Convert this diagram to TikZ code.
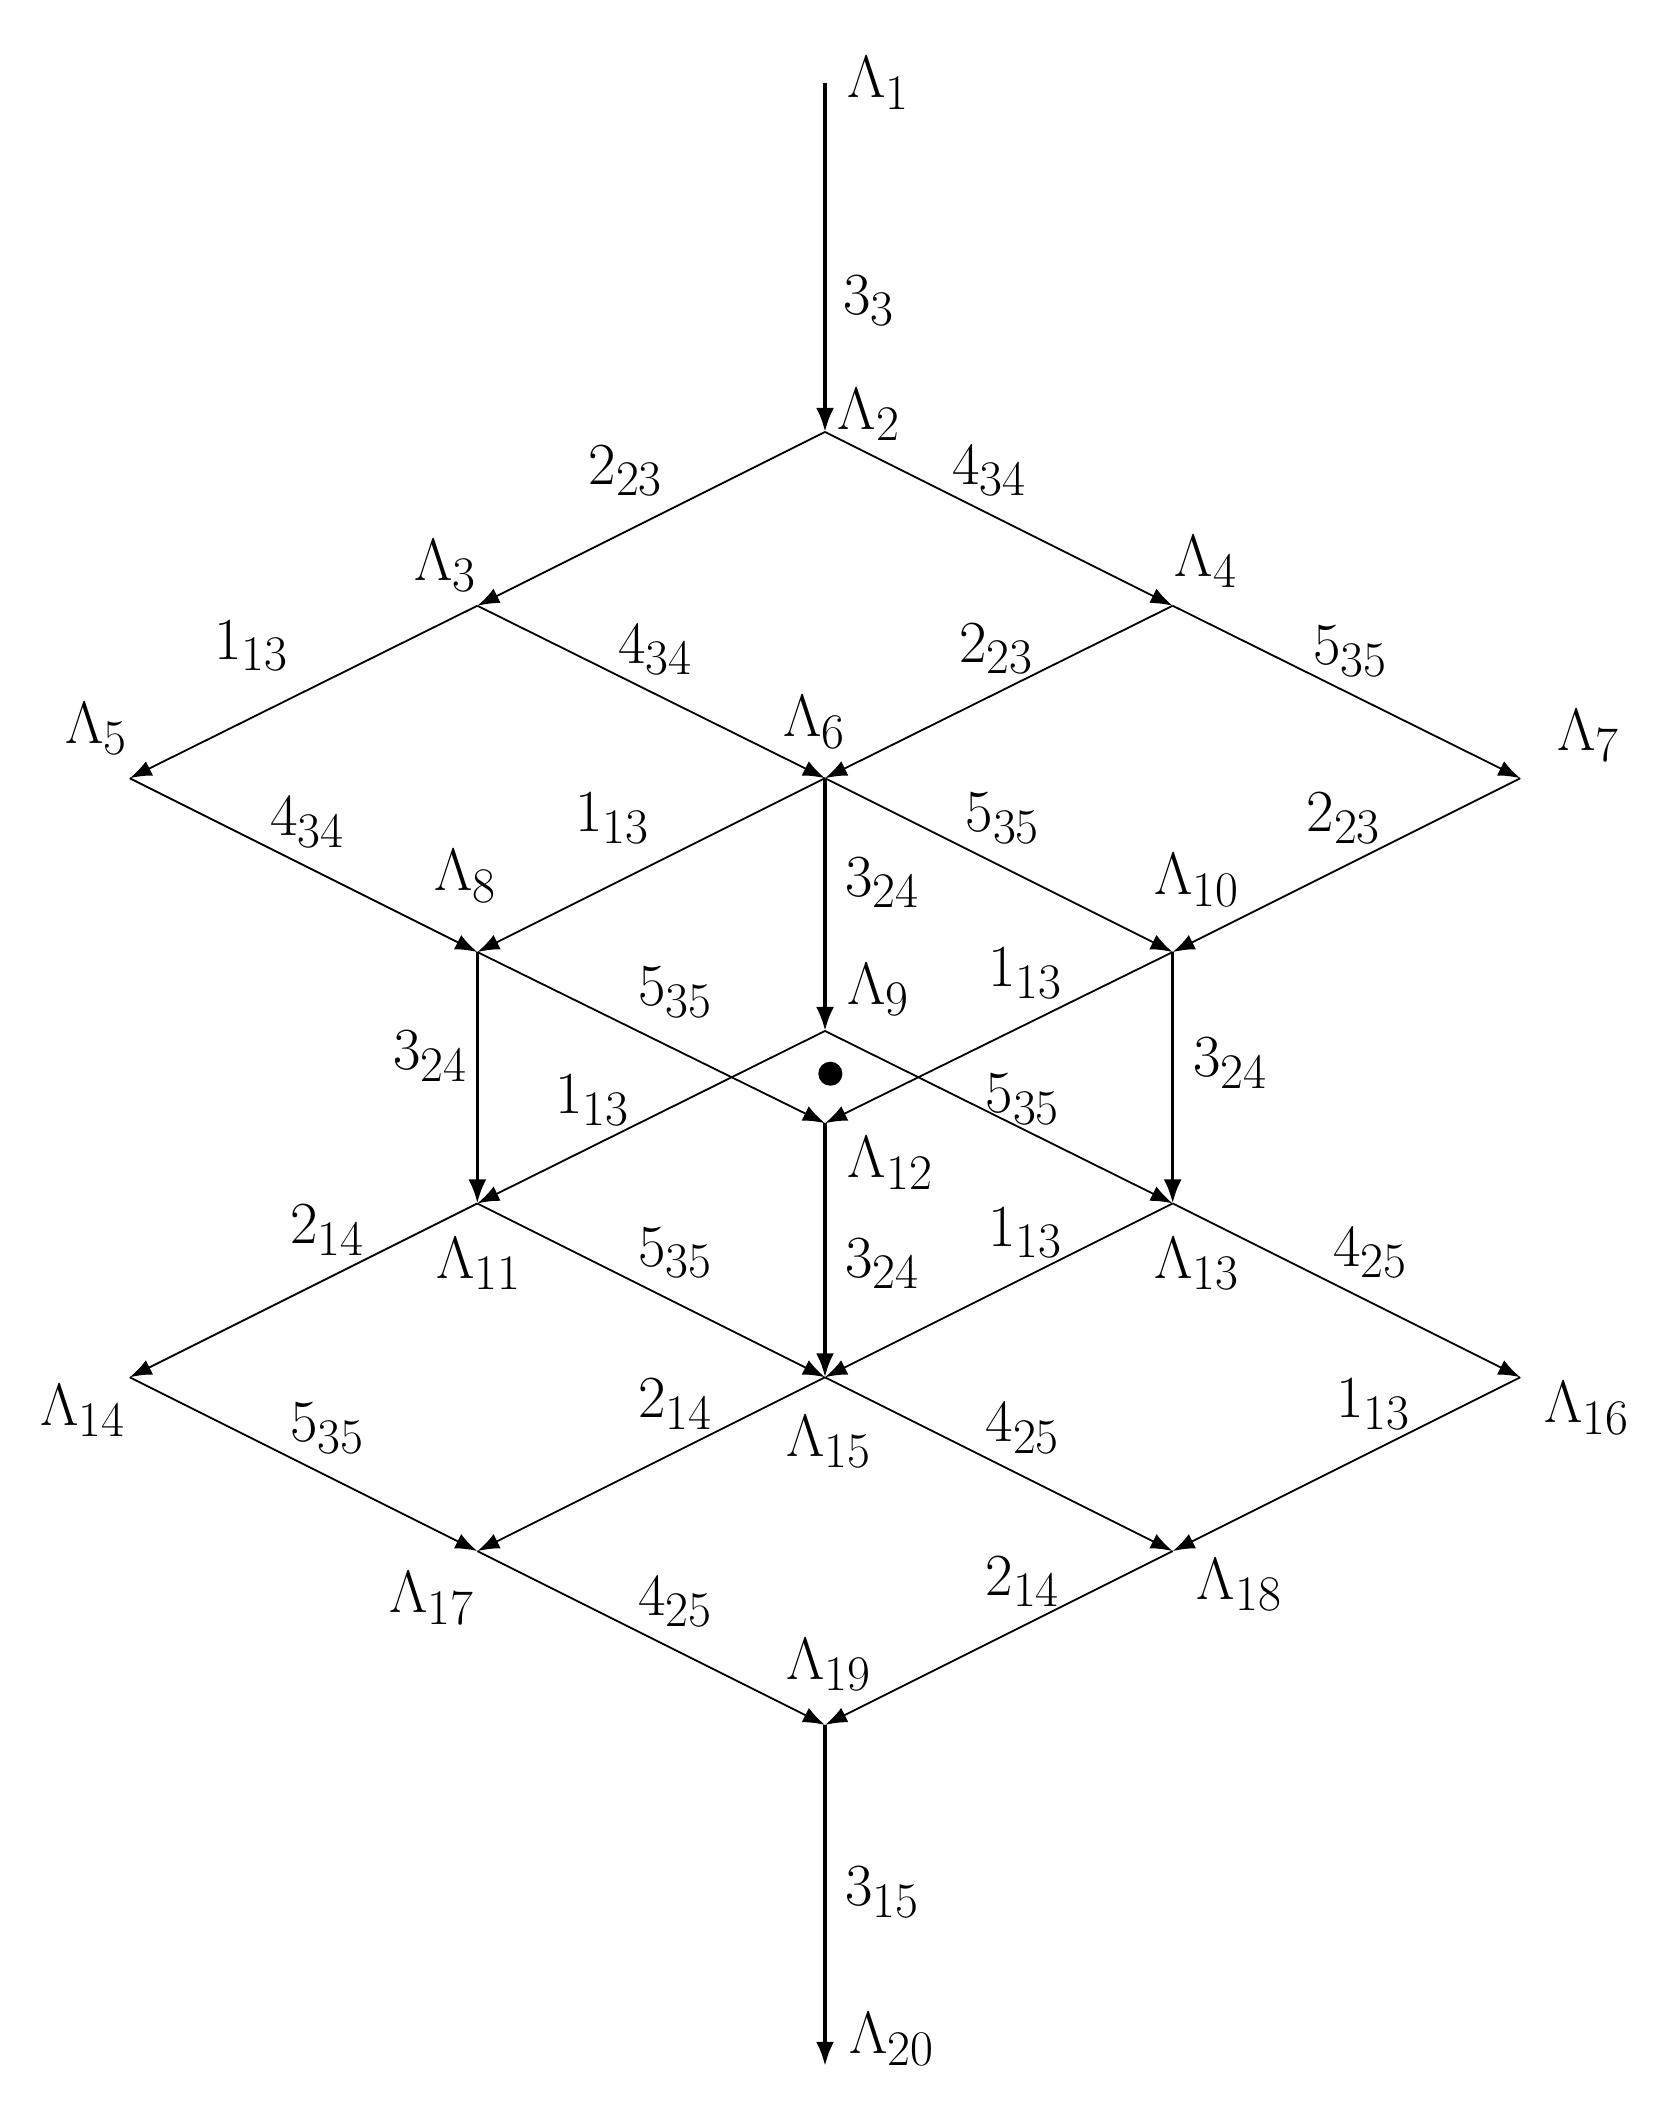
\documentclass[tikz,border=0pt]{standalone}
\usepackage{graphicx}
\usetikzlibrary{arrows.meta}
\newcommand{\lb}[1]{\scalebox{1.2}{\Huge$#1$}}
\begin{document}
\begin{tikzpicture}[x=0.6685pt,y=-0.6685pt,
  lab/.style={inner sep=0pt},
  ed/.style={line width=0.9pt,-{Latex[length=11pt,width=8pt]}},
  ved/.style={line width=1.8pt,-{Latex[length=12pt,width=9pt]}}]
\useasboundingbox (0,0) rectangle (1250,1578);
\coordinate (L1) at (617,62);
\coordinate (L2) at (617,323);
\coordinate (L3) at (357,453);
\coordinate (L4) at (877,453);
\coordinate (L5) at (97,582);
\coordinate (L6) at (617,582);
\coordinate (L7) at (1137,582);
\coordinate (L8) at (357,712);
\coordinate (L9) at (617,771);
\coordinate (L10) at (877,712);
\coordinate (L11) at (357,900);
\coordinate (L12) at (617,840);
\coordinate (L13) at (877,900);
\coordinate (L14) at (97,1030);
\coordinate (L15) at (617,1030);
\coordinate (L16) at (1137,1030);
\coordinate (L17) at (357,1160);
\coordinate (L18) at (877,1160);
\coordinate (L19) at (617,1290);
\coordinate (L20) at (617,1545);
\draw[ved] (L1) -- (L2);
\draw[ed] (L2) -- (L3);
\draw[ed] (L2) -- (L4);
\draw[ed] (L3) -- (L5);
\draw[ed] (L3) -- (L6);
\draw[ed] (L4) -- (L6);
\draw[ed] (L4) -- (L7);
\draw[ed] (L5) -- (L8);
\draw[ed] (L6) -- (L8);
\draw[ved] (L6) -- (L9);
\draw[ed] (L6) -- (L10);
\draw[ed] (L7) -- (L10);
\draw[ved] (L8) -- (L11);
\draw[ed] (L8) -- (L12);
\draw[ed] (L9) -- (L11);
\draw[ed] (L9) -- (L13);
\draw[ed] (L10) -- (L12);
\draw[ved] (L10) -- (L13);
\draw[ved] (L12) -- (L15);
\draw[ed] (L11) -- (L14);
\draw[ed] (L11) -- (L15);
\draw[ed] (L13) -- (L15);
\draw[ed] (L13) -- (L16);
\draw[ed] (L14) -- (L17);
\draw[ed] (L15) -- (L17);
\draw[ed] (L15) -- (L18);
\draw[ed] (L16) -- (L18);
\draw[ed] (L17) -- (L19);
\draw[ed] (L18) -- (L19);
\draw[ved] (L19) -- (L20);
\fill (621,803) circle (9);
\node[lab] (t1) at (657,62) {\lb{\Lambda_1}};
\node[lab] (t2) at (650,310) {\lb{\Lambda_2}};
\node[lab] (t3) at (333,423) {\lb{\Lambda_3}};
\node[lab] (t4) at (902,420) {\lb{\Lambda_4}};
\node[lab] (t5) at (72,545) {\lb{\Lambda_5}};
\node[lab] (t6) at (609,540) {\lb{\Lambda_6}};
\node[lab] (t7) at (1188,550) {\lb{\Lambda_7}};
\node[lab] (t8) at (348,655) {\lb{\Lambda_8}};
\node[lab] (t9) at (657,740) {\lb{\Lambda_9}};
\node[lab] (t10) at (895,658) {\lb{\Lambda_{10}}};
\node[lab] (t11) at (358,945) {\lb{\Lambda_{11}}};
\node[lab] (t12) at (666,870) {\lb{\Lambda_{12}}};
\node[lab] (t13) at (895,945) {\lb{\Lambda_{13}}};
\node[lab] (t14) at (62,1055) {\lb{\Lambda_{14}}};
\node[lab] (t15) at (620,1078) {\lb{\Lambda_{15}}};
\node[lab] (t16) at (1187,1053) {\lb{\Lambda_{16}}};
\node[lab] (t17) at (323,1195) {\lb{\Lambda_{17}}};
\node[lab] (t18) at (927,1185) {\lb{\Lambda_{18}}};
\node[lab] (t19) at (620,1245) {\lb{\Lambda_{19}}};
\node[lab] (t20) at (667,1525) {\lb{\Lambda_{20}}};
\node[lab] (e1) at (650,225) {\lb{3_3}};
\node[lab] (e2) at (468,352) {\lb{2_{23}}};
\node[lab] (e3) at (740,352) {\lb{4_{34}}};
\node[lab] (e4) at (188,483) {\lb{1_{13}}};
\node[lab] (e5) at (490,486) {\lb{4_{34}}};
\node[lab] (e6) at (745,485) {\lb{2_{23}}};
\node[lab] (e7) at (1010,487) {\lb{5_{35}}};
\node[lab] (e8) at (230,615) {\lb{4_{34}}};
\node[lab] (e9) at (458,612) {\lb{1_{13}}};
\node[lab] (e10) at (750,612) {\lb{5_{35}}};
\node[lab] (e11) at (1005,612) {\lb{2_{23}}};
\node[lab] (e12) at (660,660) {\lb{3_{24}}};
\node[lab] (e13) at (505,742) {\lb{5_{35}}};
\node[lab] (e14) at (767,728) {\lb{1_{13}}};
\node[lab] (e15) at (322,790) {\lb{3_{24}}};
\node[lab] (e16) at (920,795) {\lb{3_{24}}};
\node[lab] (e17) at (443,823) {\lb{1_{13}}};
\node[lab] (e18) at (765,822) {\lb{5_{35}}};
\node[lab] (e19) at (245,920) {\lb{2_{14}}};
\node[lab] (e20) at (505,937) {\lb{5_{35}}};
\node[lab] (e21) at (660,945) {\lb{3_{24}}};
\node[lab] (e22) at (767,922) {\lb{1_{13}}};
\node[lab] (e23) at (1025,937) {\lb{4_{25}}};
\node[lab] (e24) at (245,1068) {\lb{5_{35}}};
\node[lab] (e25) at (505,1050) {\lb{2_{14}}};
\node[lab] (e26) at (765,1068) {\lb{4_{25}}};
\node[lab] (e27) at (1027,1050) {\lb{1_{13}}};
\node[lab] (e28) at (505,1198) {\lb{4_{25}}};
\node[lab] (e29) at (765,1183) {\lb{2_{14}}};
\node[lab] (e30) at (660,1415) {\lb{3_{15}}};
\end{tikzpicture}
\end{document}
